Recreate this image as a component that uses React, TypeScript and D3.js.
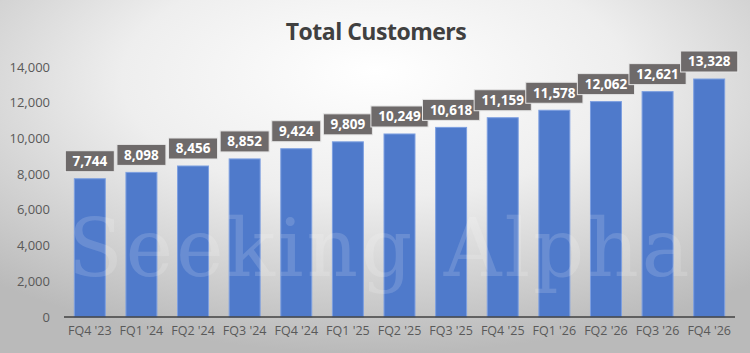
import { FC } from 'react';
import * as d3 from 'd3';

const quarters = [
  "FQ4 '23", "FQ1 '24", "FQ2 '24", "FQ3 '24", "FQ4 '24", "FQ1 '25", "FQ2 '25",
  "FQ3 '25", "FQ4 '25", "FQ1 '26", "FQ2 '26", "FQ3 '26", "FQ4 '26",
];
const customers = [7744, 8098, 8456, 8852, 9424, 9809, 10249, 10618, 11159, 11578, 12062, 12621, 13328];
const yTicks = [0, 2000, 4000, 6000, 8000, 10000, 12000, 14000];

const W = 750;
const H = 353;
const margin = { top: 67, right: 15, bottom: 36, left: 64 };

const App: FC = () => {
  const innerW = W - margin.left - margin.right;
  const innerH = H - margin.top - margin.bottom;

  const x = d3.scaleBand().domain(quarters).range([0, innerW]).paddingInner(0.4).paddingOuter(0.2);
  const y = d3.scaleLinear().domain([0, 14000]).range([innerH, 0]);
  const fmt = d3.format(',');

  const labelFont = 'Open Sans, sans-serif';

  return (
    <svg width={W} height={H} style={{ display: 'block', position: 'absolute', left: 0, top: 0 }}>
      <defs>
        <radialGradient id="bg" cx="50%" cy="25%" r="75%" fx="50%" fy="20%">
          <stop offset="0%" stopColor="#ffffff" />
          <stop offset="45%" stopColor="#eeeeee" />
          <stop offset="100%" stopColor="#bababa" />
        </radialGradient>
      </defs>
      <rect width={W} height={H} fill="url(#bg)" />

      <text
        x={376}
        y={40}
        textAnchor="middle"
        fontFamily={labelFont}
        fontWeight="bold"
        fontSize={23}
        fill="#404040"
        letterSpacing={-0.5}
      >
        Total Customers
      </text>

      <g transform={`translate(${margin.left},${margin.top})`}>
        {yTicks.map((t) => (
          <text
            key={t}
            x={-14}
            y={y(t)}
            dy="0.35em"
            textAnchor="end"
            fontFamily={labelFont}
            fontSize={13}
            fill="#595959"
          >
            {fmt(t)}
          </text>
        ))}

        {quarters.map((q, i) => (
          <rect
            key={q}
            x={x(q)}
            y={y(customers[i])}
            width={x.bandwidth()}
            height={innerH - y(customers[i])}
            fill="#4f7acb"
            stroke="#7d9fe0"
            strokeWidth={1}
          />
        ))}

        <line x1={0} x2={innerW} y1={innerH} y2={innerH} stroke="#404040" strokeWidth={1.5} />

        {quarters.map((q) => (
          <text
            key={q}
            x={(x(q) || 0) + x.bandwidth() / 2}
            y={innerH + 18}
            textAnchor="middle"
            fontFamily={labelFont}
            fontSize={12.5}
            fill="#595959"
          >
            {q}
          </text>
        ))}

        {quarters.map((q, i) => {
          const label = fmt(customers[i]);
          const bw = label.length * 8.2 + 8;
          const cx = (x(q) || 0) + x.bandwidth() / 2;
          const by = y(customers[i]) - 7 - 21;
          return (
            <g key={q}>
              <rect x={cx - bw / 2} y={by} width={bw} height={21} fill="#6e6a6a" stroke="#e6e6e6" strokeWidth={1} />
              <text
                x={cx}
                y={by + 10.5}
                dy="0.36em"
                textAnchor="middle"
                fontFamily={labelFont}
                fontWeight="bold"
                fontSize={13.5}
                fill="#ffffff"
              >
                {label}
              </text>
            </g>
          );
        })}
      </g>

      <text
        x={68}
        y={276}
        fontFamily="DejaVu Serif, serif"
        fontSize={80}
        fill="#ffffff"
        fillOpacity={0.15}
        letterSpacing={3}
      >
        Seeking Alpha
      </text>
    </svg>
  );
};

export default App;
